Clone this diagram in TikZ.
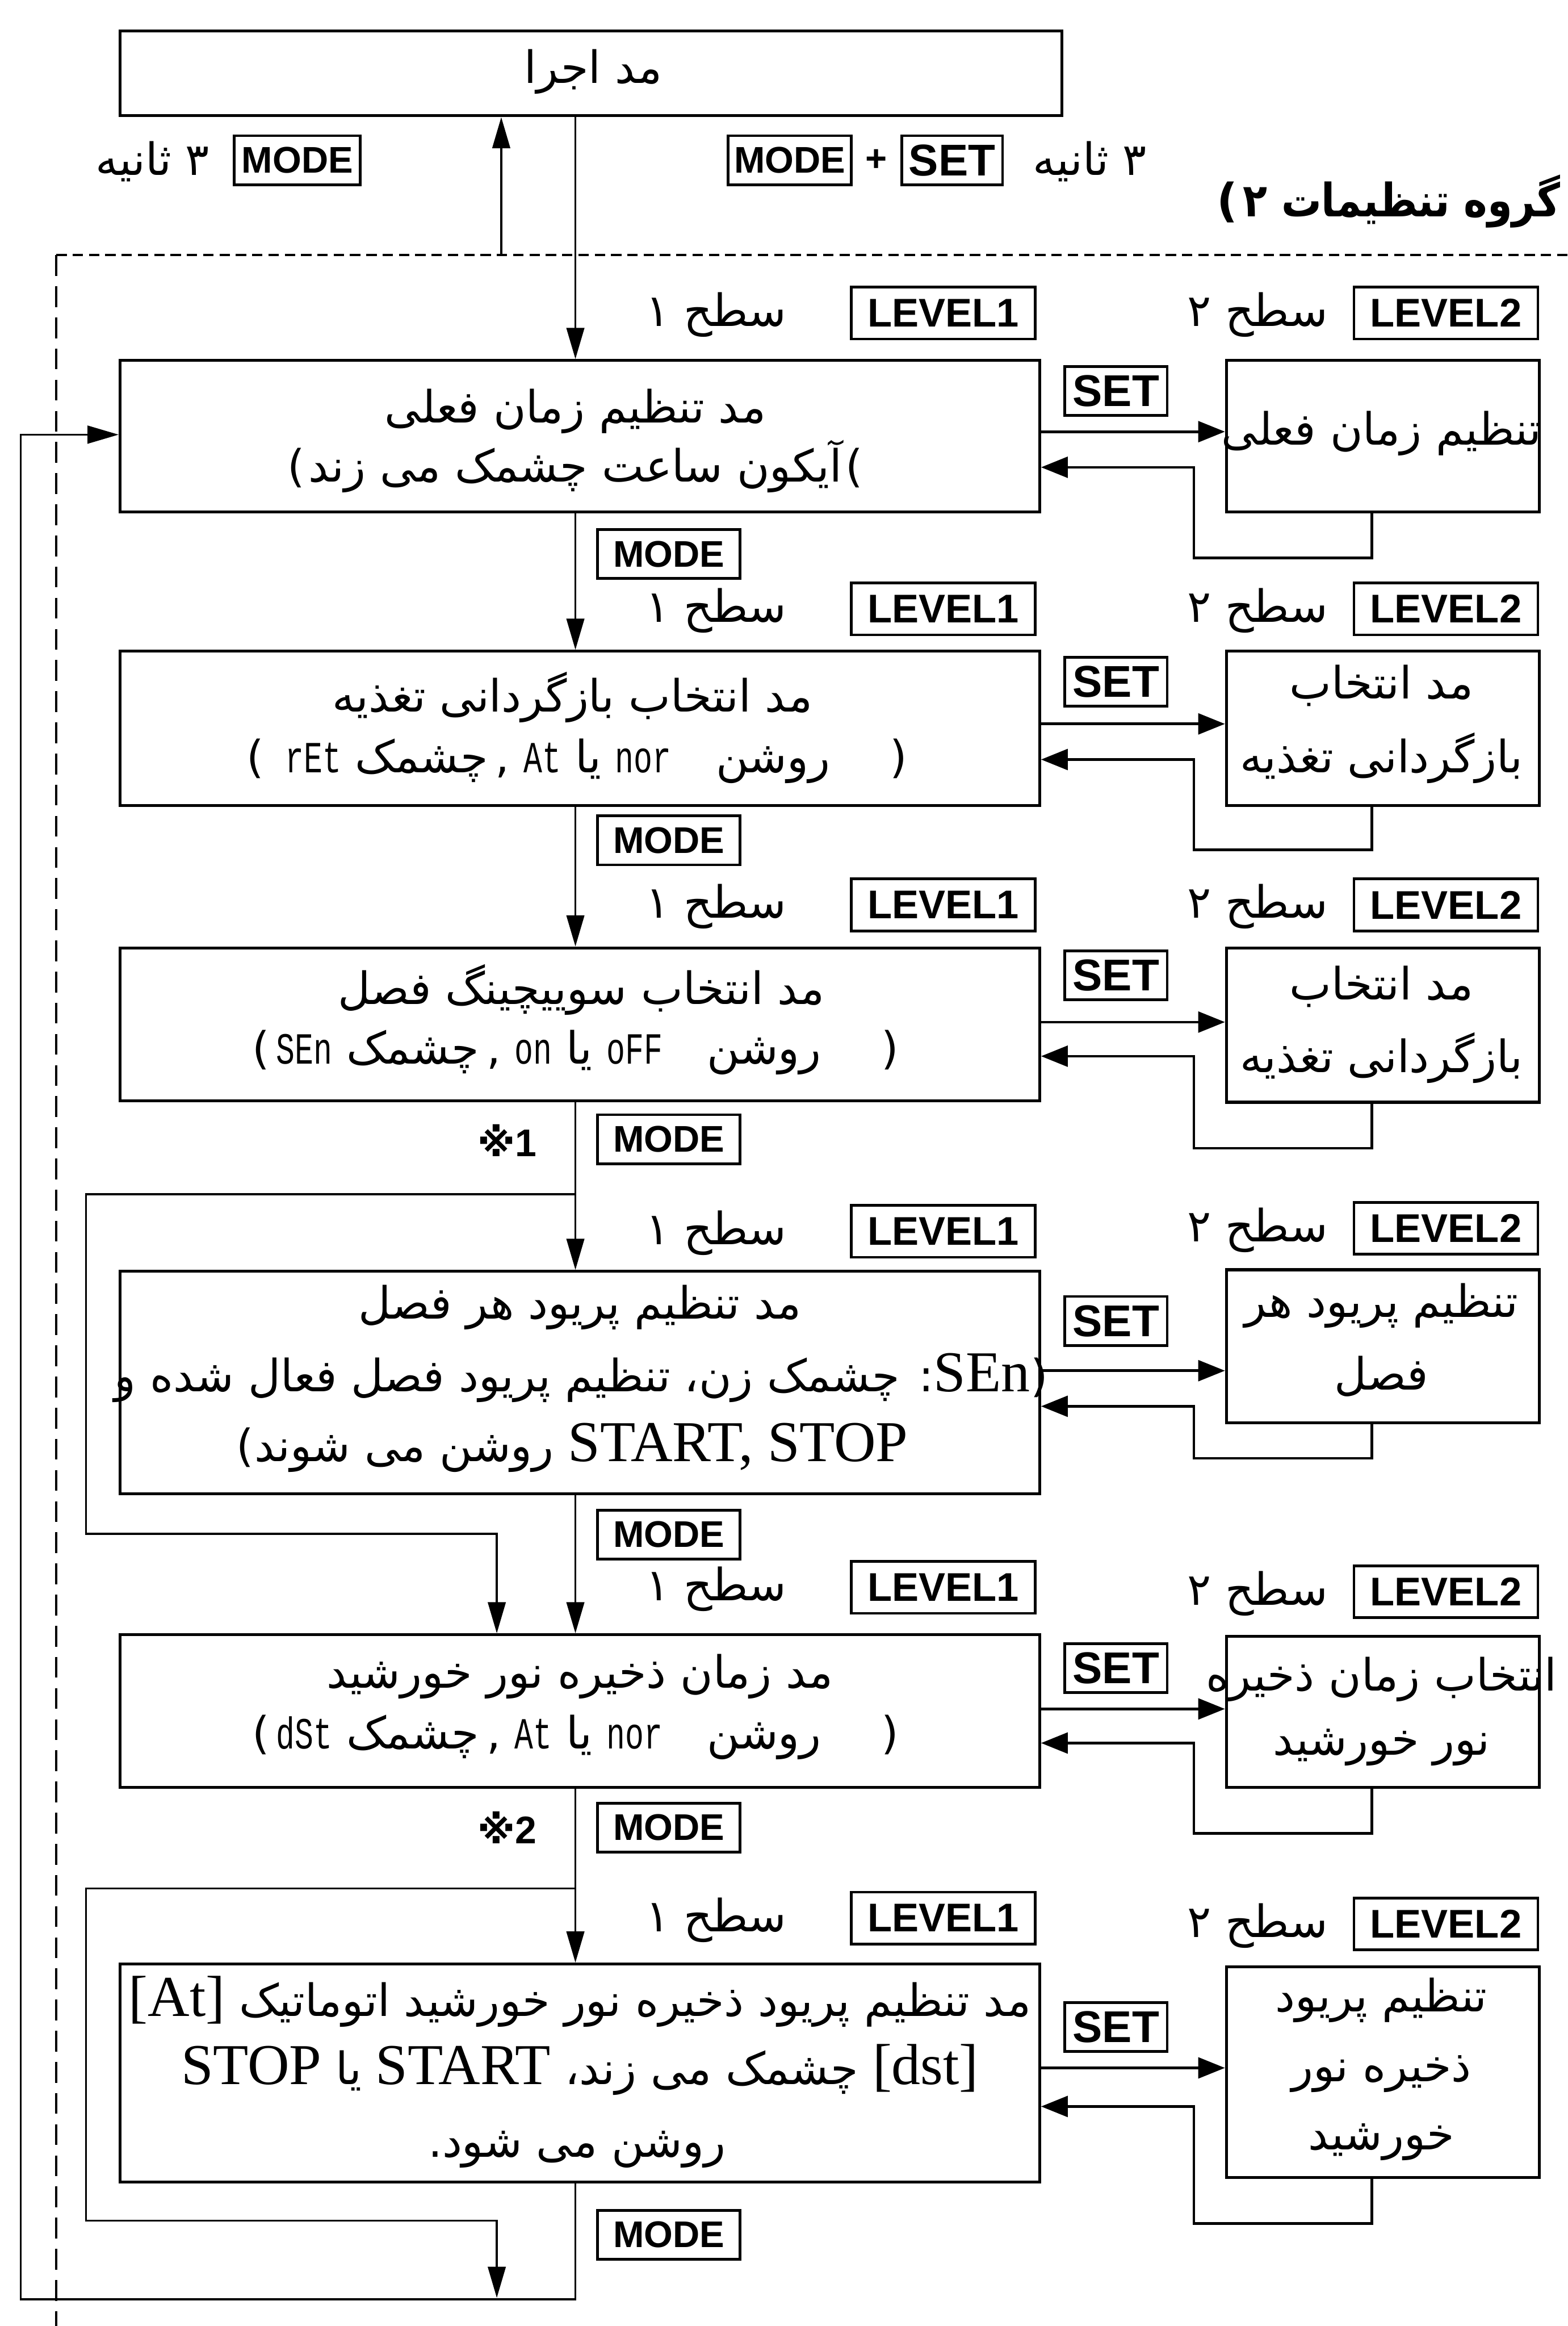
\documentclass[tikz,border=0pt]{standalone}
\usepackage{fontspec}
\usetikzlibrary{arrows.meta}
\setmainfont{Liberation Serif}
\newfontfamily\fa[Script=Arabic]{DejaVu Sans}
\newfontfamily\fat[Script=Arabic,FakeStretch=0.87]{DejaVu Sans}
\newfontfamily\keyf{Liberation Sans}
\newfontfamily\dv{DejaVu Sans}
\newfontfamily\segf[FakeStretch=0.7]{Liberation Mono}
\TeXXeTstate=1
\newcommand\RR[1]{\beginR#1\endR}
\newcommand\LL[1]{\beginL{#1}\endL}
\newcommand\lat[1]{\LL{\rmfamily\fontsize{39}{39}\selectfont #1}}
\newcommand\seg[1]{\LL{\segf\fontsize{30}{30}\selectfont #1}}
\tikzset{
 box/.style={draw, line width=2pt, inner sep=0pt, anchor=north west},
 key/.style={draw, line width=1.8pt, inner sep=0pt, minimum height=33pt, align=center},
 kmode/.style={key, font=\keyf\bfseries\fontsize{25}{25}\selectfont},
 kset/.style={key, font=\keyf\bfseries\fontsize{30}{30}\selectfont, minimum width=69pt},
 klev/.style={key, font=\keyf\bfseries\fontsize{27}{27}\selectfont, minimum width=124pt, minimum height=35pt},
 fa/.style={font=\fa\fontsize{30}{30}\selectfont, inner sep=0pt, anchor=base},
 par/.style={font=\dv\fontsize{30}{30}\selectfont, inner sep=0pt},
 conn/.style={line width=1.3pt},
 arr/.style={conn, -{Triangle[length=21pt,width=12pt]}},
 sarr/.style={line width=1.8pt, -{Triangle[length=18pt,width=14pt]}},
 frame/.style={line width=1.5pt}
}
\begin{document}
\begin{tikzpicture}[x=1pt,y=-1pt]
\useasboundingbox (0,0) rectangle (1057,1568);
\fill[white] (0,0) rectangle (1057,1568);
% helper coordinates
\coordinate (cx) at (388,0);
\coordinate (lx) at (58,0);
\coordinate (ox) at (14,0);
\coordinate (rx1) at (805,0);
\coordinate (rx2) at (925,0);
\coordinate (yb) at (0,1550);
\coordinate (rin) at (0,293);
% top box
\node[box, minimum width=635pt, minimum height=57pt] (top) at (80,20) {};
\node[fa] (t0) at (400,56) {\RR{مد اجرا}};
\node[kmode, minimum width=85pt] (kmA) at (200.5,108) {MODE};
\node[fa] (sA) at (103,118) {\RR{۳ ثانیه}};
\node[kmode, minimum width=83pt] (kmB) at (532.5,108) {MODE};
\node[font=\keyf\bfseries\fontsize{25}{25}\selectfont, inner sep=0pt] (plus) at (591,108) {+};
\node[kset, minimum width=68pt] (ksB) at (642,108) {SET};
\node[fa] (sB) at (735,118) {\RR{۳ ثانیه}};
\node[fa, anchor=base west, font=\fat\bfseries\fontsize{31}{31}\selectfont] (title) at (838,146) {\RR{گروه تنظیمات ۲}};
\node[par, font=\dv\bfseries\fontsize{31}{31}\selectfont, anchor=base east] (tpl) at ([xshift=-3pt]title.base west) {(};
\node[par, font=\dv\bfseries\fontsize{31}{31}\selectfont, anchor=base west] (tpr) at ([xshift=3pt]title.base east) {(};
% dashed group frame
\draw[frame, dash pattern=on 7pt off 4pt] (38,172) -- (1060,172);
\draw[frame, dash pattern=on 14pt off 7pt] (38,172) -- (38,1570);
% ---------- main boxes
\node[box, minimum width=620pt, minimum height=102pt] (b1) at (80,242) {};
\node[box, minimum width=620pt, minimum height=104pt] (b2) at (80,438) {};
\node[box, minimum width=620pt, minimum height=103pt] (b3) at (80,638) {};
\node[box, minimum width=620pt, minimum height=150pt] (b4) at (80,856) {};
\node[box, minimum width=620pt, minimum height=103pt] (b5) at (80,1101) {};
\node[box, minimum width=620pt, minimum height=147pt] (b6) at (80,1323) {};
% small boxes
\node[box, minimum width=211pt, minimum height=102pt] (s1) at (826,242) {};
\node[box, minimum width=211pt, minimum height=104pt] (s2) at (826,438) {};
\node[box, minimum width=211pt, minimum height=104pt] (s3) at (826,638) {};
\node[box, minimum width=211pt, minimum height=103pt] (s4) at (826,855) {};
\node[box, minimum width=211pt, minimum height=102pt] (s5) at (826,1102) {};
\node[box, minimum width=211pt, minimum height=142pt] (s6) at (826,1325) {};
% level labels
\foreach \i/\y/\yy in {1/211/211, 2/410.5/410.5, 3/610/610, 4/830/828, 5/1070/1073, 6/1293/1297}{
  \node[klev] (la\i) at (636,\y) {LEVEL1};
  \node[klev] (lb\i) at (975,\yy) {LEVEL2};
  \node[fa] (ha\i) at (483,\y+9) {\RR{سطح ۱}};
  \node[fa] (hb\i) at (848,\yy+9) {\RR{سطح ۲}};
}
% SET keys
\foreach \i/\y in {1/263.5, 2/459.5, 3/657.5, 4/890.5, 5/1124.5, 6/1366.5}{
  \node[kset] (k\i) at (752.5,\y) {SET};
}
% MODE keys
\foreach \i/\y in {1/373.5, 2/566.5, 3/768, 4/1034.5, 5/1232, 6/1506.5}{
  \node[kmode, minimum width=96pt] (m\i) at (451,\y) {MODE};
}
\node[font=\keyf\bfseries\fontsize{26}{26}\selectfont, inner sep=0pt] (n1) at (342,769) {{\dv ※}1};
\node[font=\keyf\bfseries\fontsize{26}{26}\selectfont, inner sep=0pt] (n2) at (342,1232) {{\dv ※}2};
% ---------- texts main boxes
\node[fa] (t1a) at (388,285) {\RR{مد تنظیم زمان فعلی}};
\node[fa] (t1b) at (388,325) {\RR{آیکون ساعت چشمک می زند}};
\node[par, anchor=base east] (p1l) at ([xshift=-2pt]t1b.base west) {(};
\node[par, anchor=base west] (p1r) at ([xshift=2pt]t1b.base east) {(};
\node[fa] (t2a) at (386,480) {\RR{مد انتخاب بازگردانی تغذیه}};
\node[fa] (t2b) at (389,521) {\RR{\hspace{40pt}روشن\hspace{30pt}\seg{nor} یا \seg{At} ,\,چشمک \seg{rEt}\hspace{14pt}}};
\node[par, anchor=base east] (p2l) at (t2b.base west) {(};
\node[par, anchor=base west] (p2r) at (t2b.base east) {)};
\node[fa] (t3a) at (392,677) {\RR{مد انتخاب سوییچینگ فصل}};
\node[fa] (t3b) at (388,717) {\RR{\hspace{40pt}روشن\hspace{30pt}\seg{oFF} یا \seg{on} ,\,چشمک \seg{SEn}\hspace{4pt}}};
\node[par, anchor=base east] (p3l) at (t3b.base west) {(};
\node[par, anchor=base west] (p3r) at (t3b.base east) {)};
\node[fa] (t4a) at (391,889) {\RR{مد تنظیم پریود هر فصل}};
\node[fa] (t4b) at (386,938) {\RR{\lat{SEn}: چشمک زن، تنظیم پریود فصل فعال شده و}};
\node[par, anchor=base west] (p4r) at (t4b.base east) {)};
\node[fa] (t4c) at (392,985) {\RR{\lat{START, STOP} روشن می شوند}};
\node[par, anchor=base east] (p4l) at (t4c.base west) {(};
\node[fa] (t5a) at (391,1138) {\RR{مد زمان ذخیره نور خورشید}};
\node[fa] (t5b) at (388,1179) {\RR{\hspace{40pt}روشن\hspace{30pt}\seg{nor} یا \seg{At} ,\,چشمک \seg{dSt}\hspace{4pt}}};
\node[par, anchor=base east] (p5l) at (t5b.base west) {(};
\node[par, anchor=base west] (p5r) at (t5b.base east) {)};
\node[fa] (t6a) at (391,1359) {\RR{مد تنظیم پریود ذخیره نور خورشید اتوماتیک \lat{[At]}}};
\node[fa] (t6b) at (391,1405) {\RR{\lat{[dst]} چشمک می زند، \lat{START} یا \lat{STOP}}};
\node[fa] (t6c) at (389,1454) {\RR{روشن می شود\kern0pt.}};
% texts small boxes
\node[fa] (u1a) at (931.5,300) {\RR{تنظیم زمان فعلی}};
\node[fa] (u2a) at (931.5,471) {\RR{مد انتخاب}};
\node[fa] (u2b) at (931.5,521) {\RR{بازگردانی تغذیه}};
\node[fa] (u3a) at (931.5,674) {\RR{مد انتخاب}};
\node[fa] (u3b) at (931.5,723) {\RR{بازگردانی تغذیه}};
\node[fa] (u4a) at (931.5,888) {\RR{تنظیم پریود هر}};
\node[fa] (u4b) at (931.5,937) {\RR{فصل}};
\node[fa] (u5a) at (931.5,1140) {\RR{انتخاب زمان ذخیره}};
\node[fa] (u5b) at (931.5,1183) {\RR{نور خورشید}};
\node[fa] (u6a) at (931.5,1356) {\RR{تنظیم پریود}};
\node[fa] (u6b) at (931.5,1403) {\RR{ذخیره نور}};
\node[fa] (u6c) at (931.5,1449) {\RR{خورشید}};
% ---------- connectors
\draw[arr] (top.south -| cx) -- (b1.north -| cx);
\coordinate (up0) at (338,172);
\draw[arr] (up0) -- (up0 |- top.south);
\draw[arr] (b1.south -| cx) -- (b2.north -| cx);
\draw[arr] (b2.south -| cx) -- (b3.north -| cx);
\draw[arr] (b3.south -| cx) -- (b4.north -| cx);
\draw[arr] (b4.south -| cx) -- (b5.north -| cx);
\draw[arr] (b5.south -| cx) -- (b6.north -| cx);
% branch 1
\coordinate (br1) at (388,805);
\coordinate (j1) at (335,1034);
\draw[arr] (br1) -- (lx |- br1) -- (lx |- j1) -- (j1) -- (j1 |- b5.north);
% branch 2
\coordinate (br2) at (388,1273);
\coordinate (j2) at (335,1497);
\draw[arr] (br2) -- (lx |- br2) -- (lx |- j2) -- (j2) -- ([yshift=1pt]j2 |- yb);
% outer loop
\draw[arr] (b6.south -| cx) -- (cx |- yb) -- (ox |- yb) -- (ox |- rin) -- (b1.west |- rin);
% SET arrows and returns
\foreach \i/\r/\l/\b in {1/291/315/376, 2/488/512/573, 3/689/712/774, 4/924/948/983, 5/1152/1175/1236, 6/1394/1420/1499}{
  \coordinate (rr\i) at (0,\r);
  \coordinate (rl\i) at (0,\l);
  \coordinate (rb\i) at (0,\b);
  \draw[sarr] (b\i.east |- rr\i) -- (s\i.west |- rr\i);
  \draw[sarr] (s\i.south -| rx2) -- (rx2 |- rb\i) -- (rx1 |- rb\i) -- (rx1 |- rl\i) -- (b\i.east |- rl\i);
}
\end{tikzpicture}
\end{document}
